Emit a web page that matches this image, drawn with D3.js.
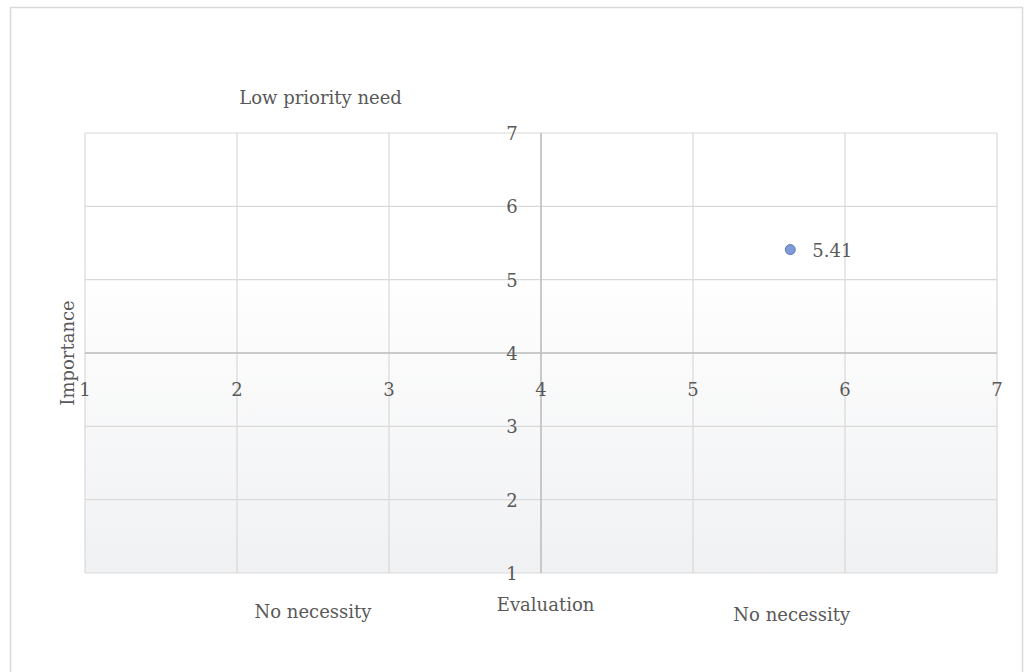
<!DOCTYPE html>
<html>
<head>
<meta charset="utf-8">
<script src="https://cdn.jsdelivr.net/npm/d3@7"></script>
<style>
  body { margin: 0; background: #fff; }
</style>
</head>
<body>
<div class="chart"></div>
<script>
// data
var xTicks = [1, 2, 3, 4, 5, 6, 7];
var yTicks = [1, 2, 3, 4, 5, 6, 7];
var points = [{x: 5.64, y: 5.41, label: "5.41"}];
var quadrantLabels = [
  {text: "Low priority need", x: 2.55, y: 7.4},
  {text: "No necessity", x: 2.5, y: 0.39},
  {text: "No necessity", x: 5.65, y: 0.35}
];
var xTitle = "Evaluation";
var yTitle = "Importance";

var width = 1026, height = 672;
var plotLeft = 85, plotRight = 997, plotTop = 133, plotBottom = 573;
var FONT = "DejaVu Serif, Liberation Serif, serif";

var svg = d3.select(".chart").append("svg")
    .attr("width", width)
    .attr("height", height)
    .style("font-family", FONT);

// outer frame
svg.append("rect")
    .attr("x", 10.5).attr("y", 7.5)
    .attr("width", 1012).attr("height", 700)
    .attr("fill", "none")
    .attr("stroke", "#d9d9d9")
    .attr("stroke-width", 1.5);

var grad = svg.append("defs").append("linearGradient")
    .attr("id", "bg").attr("x1", 0).attr("y1", 0).attr("x2", 0).attr("y2", 1);
grad.append("stop").attr("offset", "0.3").attr("stop-color", "#ffffff");
grad.append("stop").attr("offset", "1").attr("stop-color", "#f0f1f3");

var x = d3.scaleLinear().domain([1, 7]).range([plotLeft, plotRight]);
var y = d3.scaleLinear().domain([1, 7]).range([plotBottom, plotTop]);

svg.append("rect")
    .attr("x", plotLeft).attr("y", plotTop)
    .attr("width", plotRight - plotLeft).attr("height", plotBottom - plotTop)
    .attr("fill", "url(#bg)");

// gridlines
svg.append("g").selectAll("line").data(xTicks).enter().append("line")
    .attr("x1", function(d){ return x(d); }).attr("x2", function(d){ return x(d); })
    .attr("y1", plotTop).attr("y2", plotBottom)
    .attr("stroke", "#d9d9d9").attr("stroke-width", 1.2);

svg.append("g").selectAll("line").data(yTicks).enter().append("line")
    .attr("y1", function(d){ return y(d); }).attr("y2", function(d){ return y(d); })
    .attr("x1", plotLeft).attr("x2", plotRight)
    .attr("stroke", "#d9d9d9").attr("stroke-width", 1.2);

// axes crossing at 4,4
svg.append("line")
    .attr("x1", x(4)).attr("x2", x(4)).attr("y1", plotTop).attr("y2", plotBottom)
    .attr("stroke", "#bfbfbf").attr("stroke-width", 1.5);
svg.append("line")
    .attr("x1", plotLeft).attr("x2", plotRight).attr("y1", y(4)).attr("y2", y(4))
    .attr("stroke", "#bfbfbf").attr("stroke-width", 1.5);

function label(sel) {
  return sel.attr("fill", "#595959").attr("font-size", 18);
}

// tick labels
svg.append("g").selectAll("text").data(xTicks).enter().append("text")
    .attr("x", function(d){ return x(d); })
    .attr("y", y(4) + 43)
    .attr("text-anchor", "middle")
    .call(label)
    .text(function(d){ return d; });

svg.append("g").selectAll("text").data(yTicks).enter().append("text")
    .attr("x", x(4) - 29)
    .attr("y", function(d){ return y(d) + 7; })
    .attr("text-anchor", "middle")
    .call(label)
    .text(function(d){ return d; });

// axis titles
svg.append("text")
    .attr("transform", "translate(74," + y(4) + ") rotate(-90)")
    .attr("text-anchor", "middle")
    .call(label)
    .text(yTitle);

svg.append("text")
    .attr("x", x(4.03)).attr("y", 611)
    .attr("text-anchor", "middle")
    .call(label)
    .text(xTitle);

svg.selectAll(".quad").data(quadrantLabels).enter().append("text")
    .attr("class", "quad")
    .attr("x", function(d){ return x(d.x); })
    .attr("y", function(d){ return y(d.y); })
    .attr("text-anchor", "middle")
    .call(label)
    .text(function(d){ return d.text; });

// points
svg.selectAll(".dot").data(points).enter().append("circle")
    .attr("class", "dot")
    .attr("cx", function(d){ return x(d.x); })
    .attr("cy", function(d){ return y(d.y); })
    .attr("r", 5)
    .attr("fill", "#7f9ad4")
    .attr("stroke", "#5b7dc8")
    .attr("stroke-width", 1);

svg.selectAll(".dlabel").data(points).enter().append("text")
    .attr("class", "dlabel")
    .attr("x", function(d){ return x(d.x) + 22; })
    .attr("y", function(d){ return y(d.y) + 7; })
    .call(label)
    .text(function(d){ return d.label; });
</script>
</body>
</html>
